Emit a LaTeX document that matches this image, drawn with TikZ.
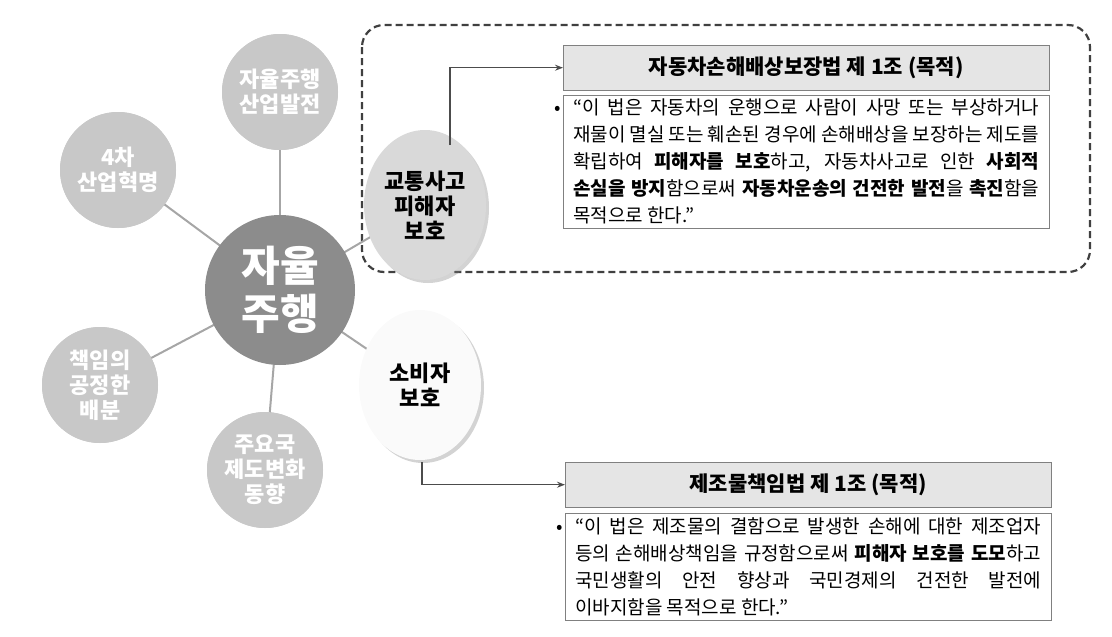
\documentclass[tikz,border=0pt]{standalone}
\usepackage{fontspec}
\setmainfont{Noto Sans CJK KR}
\usetikzlibrary{shadows,arrows.meta,shapes.geometric}
\definecolor{dk}{HTML}{8C8C8C}
\definecolor{lt}{HTML}{C8C8C8}
\definecolor{ln}{HTML}{A6A6A6}
\begin{document}
\begin{tikzpicture}[x=1pt,y=-1pt,
 outer/.style={circle,fill=lt,minimum size=116pt,text=white,font=\fontsize{22}{25}\selectfont\bfseries,align=center,inner sep=0pt},
 hl/.style={ellipse,minimum width=122pt,minimum height=150pt,align=center,font=\fontsize{22}{25}\selectfont\bfseries,inner sep=0pt},
 shd/.style={drop shadow={shadow xshift=3pt,shadow yshift=-3pt,opacity=.35}},
 title/.style={draw=gray,fill=gray!20,minimum width=486pt,minimum height=45pt,font=\fontsize{21}{24}\selectfont\bfseries,inner sep=0pt},
 body/.style={draw=gray,fill=white,text width=466pt,align=justify,font=\fontsize{19}{27}\selectfont,inner xsep=10pt,inner ysep=4pt,anchor=north west},
 con/.style={ln,line width=2pt},
 arr/.style={draw=black!70,line width=1.4pt,-{Stealth[length=8pt]}}]
\useasboundingbox (0,0) rectangle (1112,637);
\draw[line width=2.2pt,black!75,rounded corners=22pt,dash pattern=on 7pt off 4pt] (362,25) rectangle (1090,272);
\node[circle,minimum size=150pt] (c) at (280,290) {};
\node[outer] (a1) at (280,92) {};
\node[outer] (a2) at (118,170) {};
\node[outer] (a3) at (100,385) {};
\node[outer] (a4) at (265,470) {};
\node[hl] (t) at (425,205) {};
\node[hl] (s) at (420,385) {};
\foreach \n in {a1,a2,a3,a4,t,s} \draw[con] (c.center) -- (\n.center);
\node[circle,fill=dk,minimum size=150pt,text=white,font=\fontsize{42}{48}\selectfont\bfseries,align=center] at (c) {자율\\주행};
\node[outer] at (a1) {자율주행\\산업발전};
\node[outer] at (a2) {4차\\산업혁명};
\node[outer] at (a3) {책임의\\공정한\\배분};
\node[outer] at (a4) {주요국\\제도변화\\동향};
\node[hl,shd,fill=gray!30] at (t) {교통사고\\피해자\\보호};
\node[hl,shd,fill=gray!4] at (s) {소비자\\보호};
\node[title,anchor=north west] (h1) at (563,45) {자동차손해배상보장법 제 1조 (목적)};
\node[body,minimum height=133pt] (b1) at (563,95) {\leftskip=22pt\noindent\llap{•\hspace{12pt}}“이 법은 자동차의 운행으로 사람이 사망 또는 부상하거나 재물이 멸실 또는 훼손된 경우에 손해배상을 보장하는 제도를 확립하여 {\bfseries 피해자를 보호}하고, 자동차사고로 인한 {\bfseries 사회적 손실을 방지}함으로써 {\bfseries 자동차운송의 건전한 발전}을 {\bfseries 촉진}함을 목적으로 한다.”};
\node[title,anchor=north west] (h2) at (565,462) {제조물책임법 제 1조 (목적)};
\node[body,minimum height=107pt] (b2) at (565,513) {\leftskip=22pt\noindent\llap{•\hspace{12pt}}“이 법은 제조물의 결함으로 발생한 손해에 대한 제조업자 등의 손해배상책임을 규정함으로써 {\bfseries 피해자 보호를 도모}하고 국민생활의 안전 향상과 국민경제의 건전한 발전에 이바지함을 목적으로 한다.”};
\coordinate (t1) at (450,145);
\coordinate (s1) at (422,462);
\draw[arr] (t1) |- (h1.west);
\draw[arr] (s1) |- (h2.west);
\end{tikzpicture}
\end{document}
